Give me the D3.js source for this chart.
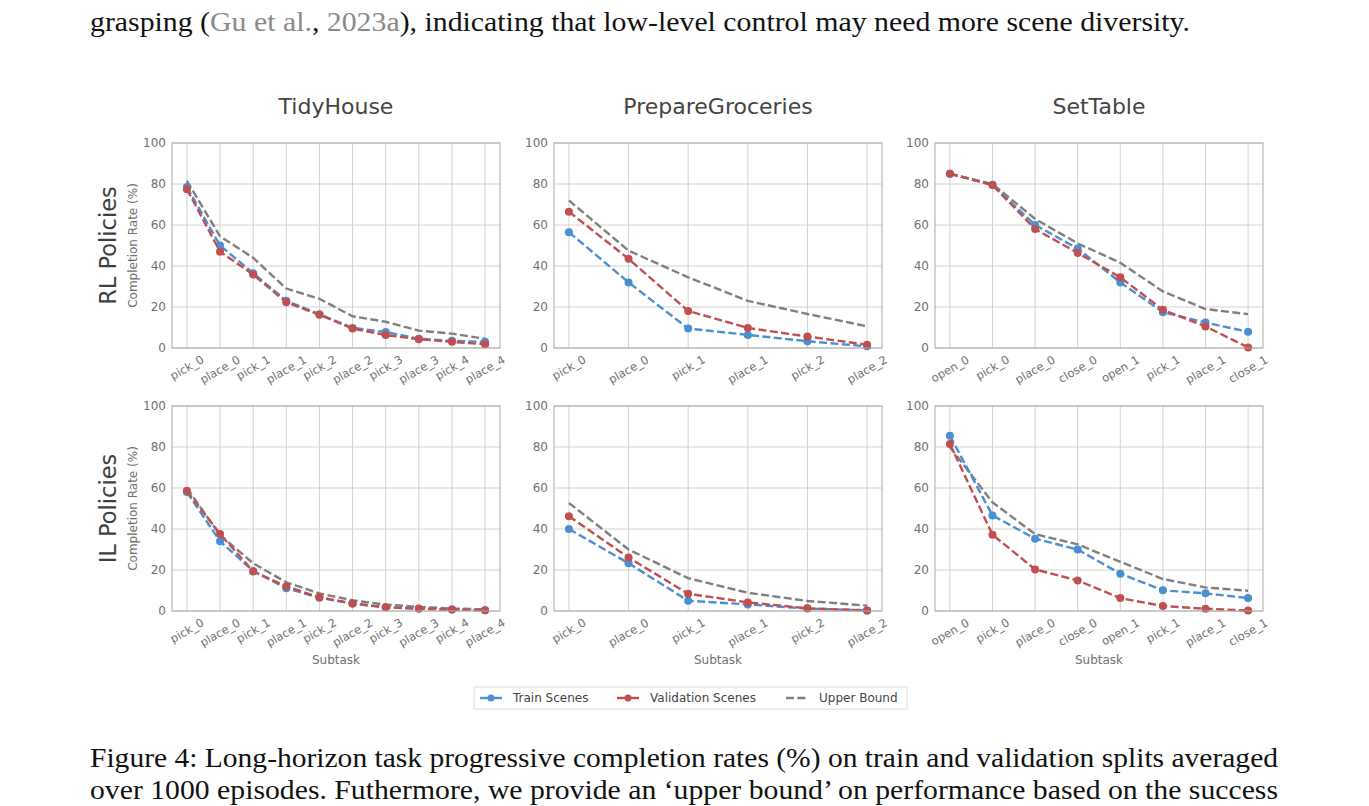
<!DOCTYPE html>
<html>
<head>
<meta charset="utf-8">
<script src="https://cdn.jsdelivr.net/npm/d3@7"></script>
<style>
  body { margin: 0; background: #fff; }
  svg { display: block; }
</style>
</head>
<body>
<div id="container"></div>
<script>
// subtask labels
const tidySubtasks = ["pick_0", "place_0", "pick_1", "place_1", "pick_2", "place_2", "pick_3", "place_3", "pick_4", "place_4"]
const grocSubtasks = ["pick_0", "place_0", "pick_1", "place_1", "pick_2", "place_2"]
const setSubtasks = ["open_0", "pick_0", "place_0", "close_0", "open_1", "pick_1", "place_1", "close_1"]

const taskNames = ["TidyHouse", "PrepareGroceries", "SetTable"]
const policyNames = ["RL Policies", "IL Policies"]
const seriesNames = ["Train Scenes", "Validation Scenes", "Upper Bound"]
const yTicks = [0, 20, 40, 60, 80, 100]

// RL row
const rlTidyTrain = [78.5, 50, 36.5, 23, 16.5, 9.8, 7.8, 4.5, 3.5, 3]
const rlTidyVal = [77.5, 47, 35.8, 22.3, 16.2, 9.5, 6.3, 4.3, 3.0, 1.8]
const rlTidyUpper = [81.5, 54.5, 44, 29, 24, 15.5, 12.8, 8.5, 7, 4.5]

const rlGrocTrain = [56.5, 32, 9.5, 6.4, 3.3, 0.8]
const rlGrocVal = [66.5, 43.5, 18.1, 9.8, 5.6, 1.6]
const rlGrocUpper = [72, 47.5, 34.5, 23, 16.6, 10.6]

const rlSetTrain = [85, 79.6, 60, 48.5, 32, 17.5, 12.4, 7.9]
const rlSetVal = [85, 79.5, 58, 46.4, 34.5, 18.6, 10.5, 0.3]
const rlSetUpper = [85, 80, 63, 51, 41.6, 27.6, 19, 16.5]

// IL row
const ilTidyTrain = [58, 34, 19.5, 11.1, 6.5, 3.7, 1.8, 1.1, 0.7, 0.4]
const ilTidyVal = [58.6, 37.6, 19.3, 12, 6.7, 3.6, 1.8, 1.2, 0.7, 0.4]
const ilTidyUpper = [60, 37, 23.3, 14, 8.6, 5.2, 3.1, 2, 1.2, 0.8]

const ilGrocTrain = [40, 23.3, 5, 3.2, 1.2, 0.3]
const ilGrocVal = [46.2, 26.1, 8.4, 4.2, 1.3, 0.3]
const ilGrocUpper = [52.7, 30, 16, 8.9, 4.9, 2.6]

const ilSetTrain = [85.5, 46.6, 35.3, 30, 18.2, 10.1, 8.6, 6.3]
const ilSetVal = [81.5, 37.2, 20.3, 14.9, 6.3, 2.4, 1.1, 0.2]
const ilSetUpper = [80, 53, 37.5, 32.5, 24, 15.6, 11.5, 9.9]

const colors = { train: "#4a8fd1", val: "#c0504f", upper: "#7f7f7f" }

const panels = [
    { row: 0, col: 0, cats: tidySubtasks, train: rlTidyTrain, val: rlTidyVal, upper: rlTidyUpper },
    { row: 0, col: 1, cats: grocSubtasks, train: rlGrocTrain, val: rlGrocVal, upper: rlGrocUpper },
    { row: 0, col: 2, cats: setSubtasks, train: rlSetTrain, val: rlSetVal, upper: rlSetUpper },
    { row: 1, col: 0, cats: tidySubtasks, train: ilTidyTrain, val: ilTidyVal, upper: ilTidyUpper },
    { row: 1, col: 1, cats: grocSubtasks, train: ilGrocTrain, val: ilGrocVal, upper: ilGrocUpper },
    { row: 1, col: 2, cats: setSubtasks, train: ilSetTrain, val: ilSetVal, upper: ilSetUpper },
]

const W = 1369, H = 806
const colLeft = [172, 554, 935]
const rowTop = [143, 406]
const pw = 328, ph = 205
const sans = "DejaVu Sans, sans-serif"
const serif = "Liberation Serif, Times New Roman, serif"
const dash = '8,3.4'

const svg = d3.select('#container')
    .append('svg').attr('width', W).attr('height', H)
svg.append('rect').attr('width', W).attr('height', H).attr('fill', '#fff')

// surrounding paper text
svg.append('text')
    .attr('x', 90).attr('y', 31)
    .attr('font-family', serif).attr('font-size', 28).attr('fill', '#111')
    .attr('textLength', 1100).attr('lengthAdjust', 'spacingAndGlyphs')
    .call(t => {
        t.append('tspan').text('grasping (')
        t.append('tspan').attr('fill', '#8a8a8a').text('Gu et al.')
        t.append('tspan').text(', ')
        t.append('tspan').attr('fill', '#8a8a8a').text('2023a')
        t.append('tspan').text('), indicating that low-level control may need more scene diversity.')
    })

const captionLines = [
    "Figure 4: Long-horizon task progressive completion rates (%) on train and validation splits averaged",
    "over 1000 episodes. Futhermore, we provide an \u2018upper bound\u2019 on performance based on the success",
]
captionLines.forEach((line, i) => {
    svg.append('text')
        .attr('x', 90).attr('y', 767 + i * 32)
        .attr('font-family', serif).attr('font-size', 28).attr('fill', '#111')
        .attr('textLength', 1188).attr('lengthAdjust', 'spacingAndGlyphs')
        .text(line)
})

const drawPanel = (p) => {
    const x0 = colLeft[p.col], y0 = rowTop[p.row]
    const g = svg.append('g').attr('transform', `translate(${x0},${y0})`)

    const step = pw / (p.cats.length - 1 + 0.1 * (p.cats.length - 1))
    const xScale = d3.scalePoint().domain(p.cats)
        .range([0.05 * (p.cats.length - 1) * step, pw - 0.05 * (p.cats.length - 1) * step])
    const yScale = d3.scaleLinear().domain([0, 100]).range([ph, 0])

    // grid
    g.append('g').selectAll('line').data(yTicks).enter().append('line')
        .attr('x1', 0).attr('x2', pw)
        .attr('y1', d => yScale(d)).attr('y2', d => yScale(d))
        .attr('stroke', '#d2d2d2').attr('stroke-width', 1)
    g.append('g').selectAll('line').data(p.cats).enter().append('line')
        .attr('x1', d => xScale(d)).attr('x2', d => xScale(d))
        .attr('y1', 0).attr('y2', ph)
        .attr('stroke', '#d2d2d2').attr('stroke-width', 1)

    // y axis labels
    const yAxis = d3.axisLeft(yScale).tickValues(yTicks).tickSize(0).tickPadding(6)
    g.append('g').call(yAxis)
        .call(a => a.select('.domain').remove())
        .selectAll('text')
        .attr('font-family', sans).attr('font-size', 12).attr('fill', '#707070')

    // x tick labels, rotated 30deg about their centre
    const xl = g.append('g')
    p.cats.forEach(c => {
        const t = xl.append('text')
            .attr('font-family', sans).attr('font-size', 11.5).attr('fill', '#707070')
            .attr('text-anchor', 'middle').attr('dy', '0.35em')
            .text(c)
        const len = t.node().getComputedTextLength()
        const half = (len * 0.5 + 11.5 * 1.1 * 0.866) / 2
        t.attr('transform', `translate(${xScale(c)},${ph + 5 + half}) rotate(-30)`)
    })

    const line = d3.line().x((d, i) => xScale(p.cats[i])).y(d => yScale(d))
    const series = [
        { vals: p.upper, color: colors.upper, marker: false },
        { vals: p.train, color: colors.train, marker: true },
        { vals: p.val, color: colors.val, marker: true },
    ]
    series.forEach(s => {
        g.append('path').datum(s.vals)
            .attr('d', line)
            .attr('fill', 'none').attr('stroke', s.color)
            .attr('stroke-width', 2.4).attr('stroke-dasharray', dash)
        if (s.marker) {
            g.append('g').selectAll('circle').data(s.vals).enter().append('circle')
                .attr('cx', (d, i) => xScale(p.cats[i])).attr('cy', d => yScale(d))
                .attr('r', 4).attr('fill', s.color)
        }
    })

    // spines
    g.append('rect').attr('width', pw).attr('height', ph)
        .attr('fill', 'none').attr('stroke', '#a8a8a8').attr('stroke-width', 1)

    if (p.row === 0) {
        g.append('text')
            .attr('x', pw / 2).attr('y', -29)
            .attr('text-anchor', 'middle')
            .attr('font-family', sans).attr('font-size', 22).attr('fill', '#444')
            .text(taskNames[p.col])
    }
    if (p.col === 0) {
        g.append('text')
            .attr('transform', `translate(-56,${ph / 2}) rotate(-90)`)
            .attr('text-anchor', 'middle')
            .attr('font-family', sans).attr('font-size', 22.5).attr('fill', '#3e3e3e')
            .text(policyNames[p.row])
        g.append('text')
            .attr('transform', `translate(-35,${ph / 2}) rotate(-90)`)
            .attr('text-anchor', 'middle')
            .attr('font-family', sans).attr('font-size', 12).attr('fill', '#707070')
            .text('Completion Rate (%)')
    }
    if (p.row === 1) {
        g.append('text')
            .attr('x', pw / 2).attr('y', ph + 53)
            .attr('text-anchor', 'middle')
            .attr('font-family', sans).attr('font-size', 12).attr('fill', '#707070')
            .text('Subtask')
    }
}

panels.forEach(drawPanel)

// legend
const legend = svg.append('g').attr('transform', 'translate(474,687)')
legend.append('rect').attr('width', 433).attr('height', 22)
    .attr('fill', '#fff').attr('stroke', '#dcdcdc').attr('stroke-width', 1)
const legendX = [6, 143, 312]
const legendColors = [colors.train, colors.val, colors.upper]
seriesNames.forEach((name, i) => {
    const lg = legend.append('g').attr('transform', `translate(${legendX[i]},11)`)
    lg.append('line').attr('x1', 0).attr('x2', 22).attr('y1', 0).attr('y2', 0)
        .attr('stroke', legendColors[i]).attr('stroke-width', 2.4)
        .attr('stroke-dasharray', i === 2 ? dash : null)
    if (i < 2) lg.append('circle').attr('cx', 11).attr('cy', 0).attr('r', 3.5).attr('fill', legendColors[i])
    lg.append('text').attr('x', 33).attr('dy', '0.35em')
        .attr('font-family', sans).attr('font-size', 12).attr('fill', '#444')
        .text(name)
})
</script>
</body>
</html>
